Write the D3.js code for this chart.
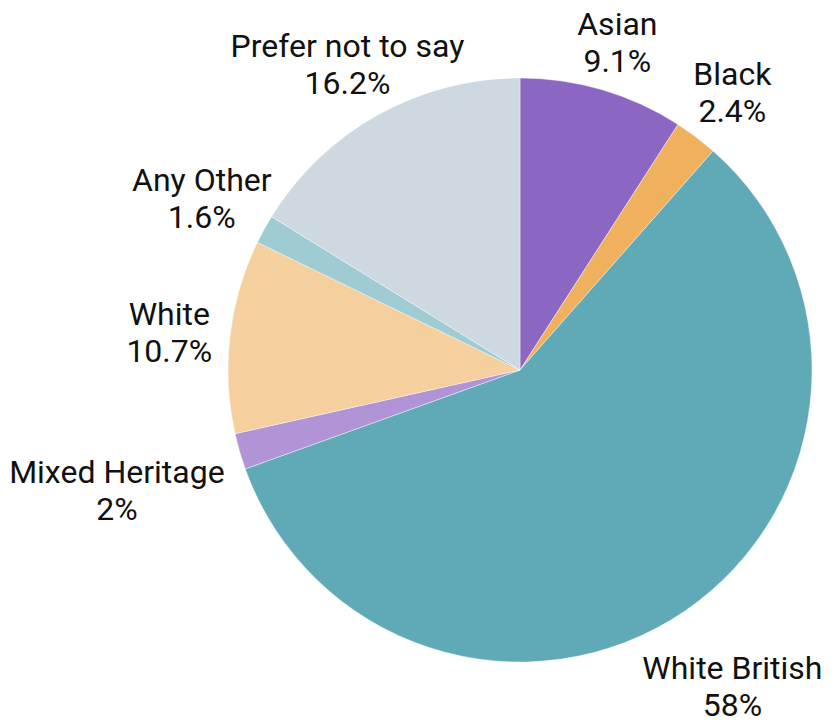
<!DOCTYPE html>
<html>
<head>
<meta charset="utf-8">
<script src="https://cdn.jsdelivr.net/npm/d3@7/dist/d3.min.js"></script>
<style>
  html, body { margin: 0; padding: 0; background: #fff; }
  svg { display: block; }
  text { font-family: Roboto, "Noto Sans", sans-serif; fill: #111; }
</style>
</head>
<body>
<svg id="chart" width="835" height="720"></svg>
<script>
// Ethnicity breakdown, clockwise from 12 o'clock
const categories = ["Asian", "Black", "White British", "Mixed Heritage", "White", "Any Other", "Prefer not to say"];
const shares = [9.1, 2.4, 58, 2, 10.7, 1.6, 16.2];
const colours = ["#8b67c3", "#efb15d", "#60a9b7", "#b094d5", "#f5cf9e", "#9fcbd3", "#cdd8e1"];

const width = 835, height = 720;
const cx = 520, cy = 370, radius = 292;
const labelGap = 16;
const fontSize = 32;
const capHeight = 0.711 * fontSize;
const lineStep = 37;
const baselineShift = 3.5;

const svg = d3.select("#chart");
const g = svg.append("g").attr("transform", `translate(${cx},${cy})`);

const data = categories.map((c, i) => ({ name: c, value: shares[i], colour: colours[i] }));

const pie = d3.pie().value(d => d.value).sort(null);
const arc = d3.arc().innerRadius(0).outerRadius(radius);
const arcs = pie(data);

g.selectAll("path.slice")
  .data(arcs)
  .join("path")
  .attr("class", "slice")
  .attr("d", arc)
  .attr("fill", d => d.data.colour)
  .attr("stroke", "#fff")
  .attr("stroke-width", 0.4);

// Two-line labels centred on each slice's mid-angle ray, pushed outward
// until every line's glyph box (cap top to baseline) clears the pie edge.
const labels = g.selectAll("g.label")
  .data(arcs)
  .join("g")
  .attr("class", "label");

labels.each(function(d) {
  const node = d3.select(this);
  const lines = [d.data.name, d.data.value + "%"];
  const texts = lines.map((s, i) => node.append("text")
    .attr("text-anchor", "middle")
    .attr("font-size", fontSize)
    .attr("y", i * lineStep + baselineShift)
    .text(s));
  const widths = texts.map(t => t.node().getComputedTextLength());

  const mid = (d.startAngle + d.endAngle) / 2;
  const ux = Math.sin(mid), uy = -Math.cos(mid);
  const blockMid = ((lines.length - 1) * lineStep - capHeight) / 2;

  const clearance = dist => {
    const bx = ux * dist, by = uy * dist - blockMid;
    let best = Infinity;
    widths.forEach((w, i) => {
      const x0 = bx - w / 2, x1 = bx + w / 2;
      const y1 = by + i * lineStep, y0 = y1 - capHeight;
      const nx = Math.max(x0, Math.min(0, x1));
      const ny = Math.max(y0, Math.min(0, y1));
      best = Math.min(best, Math.hypot(nx, ny));
    });
    return best;
  };
  let lo = 0, hi = radius * 3;
  for (let k = 0; k < 60; k++) {
    const m = (lo + hi) / 2;
    if (clearance(m) < radius + labelGap) lo = m; else hi = m;
  }
  node.attr("transform", `translate(${ux * hi},${uy * hi - blockMid})`);
});
</script>
</body>
</html>
